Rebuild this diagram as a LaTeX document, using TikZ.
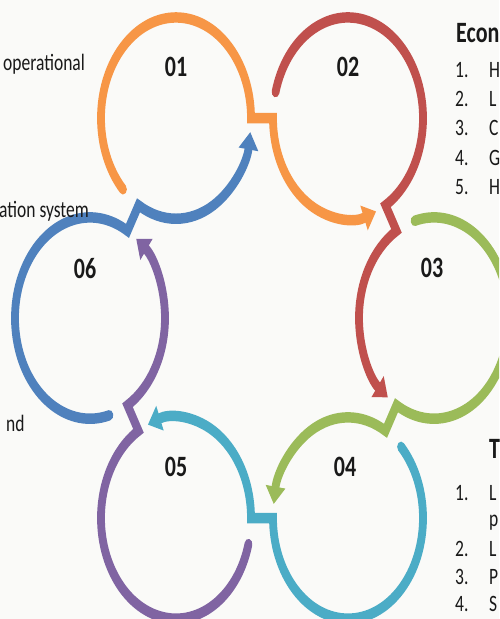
\documentclass[tikz,border=0pt]{standalone}
\usepackage{fontspec}
\setmainfont{Carlito}
\usetikzlibrary{arrows.meta,calc}

\definecolor{ringorange}{RGB}{247,150,70}
\definecolor{ringred}{RGB}{192,80,77}
\definecolor{ringgreen}{RGB}{155,187,89}
\definecolor{ringcyan}{RGB}{75,172,198}
\definecolor{ringpurple}{RGB}{128,100,162}
\definecolor{ringblue}{RGB}{79,129,189}
\definecolor{inktext}{RGB}{25,25,25}
\definecolor{paper}{RGB}{250,250,248}

\begin{document}
\begin{tikzpicture}[x=1pt,y=1pt,
  loop/.style={line width=7.8pt, line cap=round, line join=miter,
               -{Triangle[width=19pt,length=13pt]}},
  num/.style={font=\bfseries\fontsize{22}{22}\selectfont, text=inktext, inner sep=0pt},
  side/.style={font=\fontsize{17.5}{20}\selectfont, text=inktext, anchor=base west, inner sep=0pt},
  head/.style={font=\bfseries\fontsize{22}{24}\selectfont, text=inktext, anchor=base west, inner sep=0pt},
]
\fill[paper] (0,0) rectangle (499,-619);
\useasboundingbox (0,0) rectangle (499,-619);
\clip (0,0) rectangle (499,-619);

% everything is laid out on circles and then stretched vertically
\begin{scope}[transform canvas={yscale=1.342}]
  \def\R{75}
  % ring centres on a hexagon
  \coordinate (c1) at (176,-88);
  \coordinate (c2) at (348,-88);
  \coordinate (c3) at (434,-237);
  \coordinate (c4) at (348,-386);
  \coordinate (c5) at (176,-386);
  \coordinate (c6) at (90,-237);

  % each colour: clockwise round its own ring, a jog, then half way round the next ring
  \draw[loop, ringorange] ($(c1)+(225:\R)$) arc[start angle=225, end angle=0, radius=\R]
        -- ($(c2)+(180:\R)$) arc[start angle=180, end angle=292, radius=\R];
  \draw[loop, ringred] ($(c2)+(165:\R)$) arc[start angle=165, end angle=-60, radius=\R]
        -- ($(c3)+(120:\R)$) arc[start angle=120, end angle=232, radius=\R];
  \draw[loop, ringgreen] ($(c3)+(105:\R)$) arc[start angle=105, end angle=-120, radius=\R]
        -- ($(c4)+(60:\R)$) arc[start angle=60, end angle=172, radius=\R];
  \draw[loop, ringcyan] ($(c4)+(45:\R)$) arc[start angle=45, end angle=-180, radius=\R]
        -- ($(c5)+(0:\R)$) arc[start angle=0, end angle=112, radius=\R];
  \draw[loop, ringpurple] ($(c5)+(-15:\R)$) arc[start angle=-15, end angle=-240, radius=\R]
        -- ($(c6)+(-60:\R)$) arc[start angle=-60, end angle=52, radius=\R];
  \draw[loop, ringblue] ($(c6)+(-75:\R)$) arc[start angle=-75, end angle=-300, radius=\R]
        -- ($(c1)+(-120:\R)$) arc[start angle=-120, end angle=-8, radius=\R];

  % ring numbers
  \node[num] (n1) at ($(c1)+(0,38)$) {01};
  \node[num] (n2) at ($(c2)+(0,38)$) {02};
  \node[num] (n3) at ($(c3)+(-2,37)$) {03};
  \node[num] (n4) at ($(c4)+(-3,38)$) {04};
  \node[num] (n5) at ($(c5)+(0,38)$) {05};
  \node[num] (n6) at ($(c6)+(-5,37)$) {06};

  % left-hand captions
  \node[side] (l1) at (3,-52.2) {operational};
  \node[side] (l2) at (-1,-162.4) {ation system};
  \node[side] (l3) at (6,-321.9) {nd};

  % upper right list
  \node[head] (h1) at (456,-31.3) {Econ};
  \node[side] (a1) at (455,-58.1) {1.};  \node[side] (b1) at (489,-58.1) {H};
  \node[side] (a2) at (455,-79.7) {2.};  \node[side] (b2) at (489,-79.7) {L};
  \node[side] (a3) at (455,-101.3) {3.}; \node[side] (b3) at (489,-101.3) {C};
  \node[side] (a4) at (455,-123.0) {4.}; \node[side] (b4) at (489,-123.0) {G};
  \node[side] (a5) at (455,-144.6) {5.}; \node[side] (b5) at (489,-144.6) {H};

  % lower right list
  \node[head] (h2) at (489,-341.3) {T};
  \node[side] (p1) at (455,-373.3) {1.};  \node[side] (q1) at (489,-373.3) {L};
  \node[side] (q1b) at (489,-392.0) {p};
  \node[side] (p2) at (455,-415.0) {2.};  \node[side] (q2) at (489,-415.0) {L};
  \node[side] (p3) at (455,-435.2) {3.};  \node[side] (q3) at (489,-435.2) {P};
  \node[side] (p4) at (455,-455.3) {4.};  \node[side] (q4) at (489,-455.3) {S};
\end{scope}
\end{tikzpicture}
\end{document}
